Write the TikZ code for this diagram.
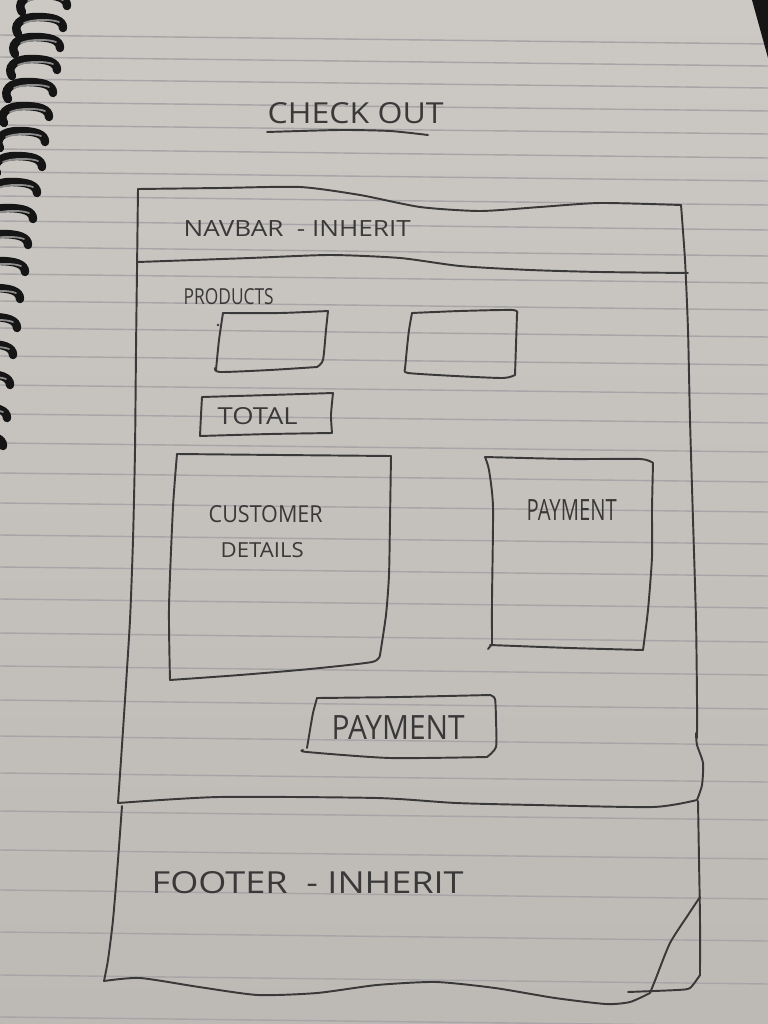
\documentclass[tikz,border=0pt]{standalone}
\usepackage{fontspec}
\usepackage{graphicx}
\newfontfamily\handfont{Open Sans}
% one unit of the sketch grid
\newlength\pxu
\setlength\pxu{0.01cm}
% hand-lettered label squeezed into a given width and cap height
\newcommand\hand[3]{\resizebox{#1\pxu}{#2\pxu}{\handfont #3}}
\definecolor{papertop}{HTML}{CCC8C4}
\definecolor{paperbot}{HTML}{BDB9B5}
\definecolor{ruling}{HTML}{A7A5A7}
\definecolor{pencil}{HTML}{3A3939}
\definecolor{wire}{HTML}{151515}
\definecolor{wirehi}{HTML}{8C8C8C}
\begin{document}
\begin{tikzpicture}[x=0.01cm,y=-0.01cm,
  rule/.style={draw=ruling, line width=0.4pt},
  ink/.style={draw=pencil, line width=0.55pt, line join=round, line cap=round},
  wavy/.style={ink, smooth, tension=0.4},
  ring/.style={draw=wire, line width=2.4pt, line cap=round},
  ringhi/.style={draw=wirehi, line width=0.5pt, line cap=round},
  label/.style={text=pencil, inner sep=0pt, anchor=base west}]
\useasboundingbox (0,0) rectangle (768,1024);
\clip (0,0) rectangle (768,1024);

% notebook paper
\shade[top color=papertop, bottom color=paperbot] (0,0) rectangle (768,1024);
\foreach \y in {40,62,84,107,130,154,177,201,226,252,279,306,333,361,390,419,448,478,508,540,572,604,638,671,705,741,778,816,855,895,937,980,1022}
  \draw[rule] (0,\y-5) -- (768,\y+4);

% spiral binding
\foreach \yc/\tx in {3/67,25/63,45/60,67/57,90/53,114/49,139/45,164/42,190/37,216/33,242/28,269/25,296/20,325/17,352/13,382/10,415/7,443/3} {
  \draw[ring] (\tx,\yc+3) .. controls (\tx,\yc-5) and (\tx-10,\yc-8) .. (\tx-26,\yc-8)
              .. controls (\tx-44,\yc-8) and (\tx-50,\yc+1) .. (\tx-45,\yc+9);
  \draw[ringhi] (\tx-4,\yc-3) .. controls (\tx-12,\yc-6) and (\tx-30,\yc-6) .. (\tx-39,\yc-2);
}
% table edge showing past the page corner
\fill[wire] (752,0) -- (768,0) -- (768,58) -- cycle;

% page title
\node[label] (title) at (267,123) {\hand{176}{21}{CHECK OUT}};
\draw[wavy] plot coordinates {(267,132) (340,130) (390,131) (428,135)};

% page frame
\draw[wavy] plot coordinates {(138,189) (220,188) (300,187) (360,195) (420,207) (480,211) (540,207) (600,203) (681,205)};
\draw[wavy] plot coordinates {(681,205) (685,260) (688,330) (690,420) (693,520) (696,620) (697,700) (697,738)};
\draw[wavy] plot coordinates {(696,733) (697,745) (703,763) (702,785) (697,800)};
\draw[wavy] plot coordinates {(697,800) (653,807) (535,805) (456,803) (377,798) (219,797) (118,803)};
\draw[wavy] plot coordinates {(118,803) (121,760) (125,700) (130,620) (133,540) (135,450) (136,350) (137,270) (138,189)};

% navbar
\draw[wavy] plot coordinates {(138,262) (250,258) (330,255) (400,258) (460,266) (530,270) (600,272) (688,273)};
\node[label] (navbar) at (183,236) {\hand{227}{16}{NAVBAR~~-~INHERIT}};

% products
\node[label] (products) at (183,304) {\hand{90}{16}{PRODUCTS}};
\draw[wavy] plot coordinates {(223,313) (280,313) (328,311)};
\draw[wavy] plot coordinates {(328,311) (326,330) (323,360) (317,367)};
\draw[wavy] plot coordinates {(317,367) (270,370) (220,372) (215,368)};
\draw[wavy] plot coordinates {(216,370) (219,340) (223,313)};
\fill[pencil] (218,325) circle (1.3);
\draw[wavy] plot coordinates {(412,313) (460,311) (513,310) (517,314)};
\draw[wavy] plot coordinates {(517,314) (516,345) (515,375)};
\draw[wavy] plot coordinates {(515,375) (503,378) (455,376) (408,373) (405,369)};
\draw[wavy] plot coordinates {(405,369) (407,348) (409,330) (412,313)};

% total
\draw[wavy] plot coordinates {(202,397) (270,395) (333,393)};
\draw[wavy] plot coordinates {(333,393) (331,415) (332,433)};
\draw[wavy] plot coordinates {(332,433) (270,434) (200,436)};
\draw[wavy] plot coordinates {(200,436) (201,415) (202,397)};
\node[label] (total) at (217,424) {\hand{80}{17}{TOTAL}};

% customer details
\draw[wavy] plot coordinates {(177,454) (280,455) (391,456)};
\draw[wavy] plot coordinates {(391,456) (390,520) (389,575) (386,615) (380,655)};
\draw[wavy] plot coordinates {(380,655) (372,662) (310,669) (240,675) (170,680)};
\draw[wavy] plot coordinates {(170,680) (169,607) (173,507) (177,454)};
\node[label] (cust) at (208,522) {\hand{114}{17}{CUSTOMER}};
\node[label] (details) at (220,557) {\hand{83}{15}{DETAILS}};

% payment panel
\draw[wavy] plot coordinates {(485,457) (570,459) (640,459) (653,463)};
\draw[wavy] plot coordinates {(653,463) (652,510) (652,557) (648,610) (643,650)};
\draw[wavy] plot coordinates {(643,650) (570,648) (490,645)};
\draw[ink] (488,649) -- (492,644);
\draw[wavy] plot coordinates {(492,644) (492,600) (493,507) (489,470) (485,457)};
\node[label] (payment) at (526,520) {\hand{90}{21}{PAYMENT}};

% payment button
\draw[wavy] plot coordinates {(317,698) (400,697) (490,695)};
\draw[wavy] plot coordinates {(490,695) (495,699) (496,720) (496,747) (487,757)};
\draw[wavy] plot coordinates {(487,757) (390,758) (307,752) (303,750)};
\draw[wavy] plot coordinates {(307,748) (310,730) (313,713) (317,698)};
\node[label] (paybtn) at (331,739) {\hand{133}{24}{PAYMENT}};

% footer
\draw[wavy] plot coordinates {(122,806) (118,860) (113,920) (108,960) (104,981)};
\draw[wavy] plot coordinates {(104,981) (140,978) (199,987) (258,995) (317,993) (377,985) (436,982) (495,988) (555,998) (606,1004) (630,1002) (650,993)};
\draw[wavy] plot coordinates {(650,993) (656,978) (670,943) (688,915) (700,897)};
\draw[wavy] plot coordinates {(698,801) (699,860) (700,920) (700,975)};
\draw[wavy] plot coordinates {(700,975) (690,988) (677,990) (628,992)};
\node[label] (footer) at (151,893) {\hand{312}{22}{FOOTER~~-~INHERIT}};

\end{tikzpicture}
\end{document}
